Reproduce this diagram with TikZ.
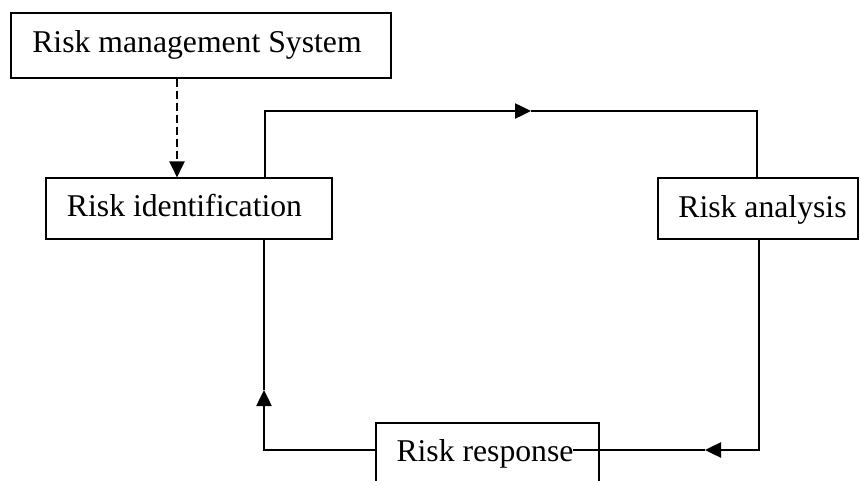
\documentclass[tikz,border=0pt]{standalone}
\usepackage{fontspec}
\setmainfont{Liberation Serif}
\usetikzlibrary{arrows.meta}
\begin{document}
\begin{tikzpicture}[x=1pt,y=-1pt,
 box/.style={draw=black,line width=1.1pt,inner sep=0pt},
 lbl/.style={anchor=base,inner sep=0pt,font=\fontsize{31.7}{38}\selectfont},
 thinline/.style={line width=1.1pt},
 boldline/.style={line width=2.5pt},
 tipend/.style={-{Triangle[length=16pt,width=15pt]}},
 dashline/.style={line width=2.2pt,dash pattern=on 8pt off 4pt},
]
\useasboundingbox (0,0) rectangle (860,481);
\clip (0,0) rectangle (860,481);
% boxes
\node[box,minimum width=380pt,minimum height=65pt] (rms) at (201,45.5) {};
\node[box,minimum width=286pt,minimum height=61pt] (rid) at (189,208.5) {};
\node[box,minimum width=200pt,minimum height=61pt] (ran) at (758,208.5) {};
\node[box,minimum width=223pt,minimum height=62pt] (rrs) at (487.5,454) {};
% helper coordinates
\coordinate (xd) at (177,0);
\coordinate (xl) at (265,0);
\coordinate (xr) at (757,0);
\coordinate (xb) at (759,0);
\coordinate (xbl) at (264,0);
\coordinate (ytop) at (0,111);
\coordinate (ybot) at (0,450);
\coordinate (a1) at (531,111);
\coordinate (a2) at (705,450);
\coordinate (a3) at (264,390);
\coordinate (e2) at (573,450);
% dashed arrow
\draw[dashline,tipend] (rms.south -| xd) -- (rid.north -| xd);
% top connector
\draw[boldline,tipend] (rid.north -| xl) -- (xl |- ytop) -- (a1);
\draw[thinline] (a1) -- (xr |- ytop) -- (ran.north -| xr);
% right connector
\draw[boldline,tipend] (ran.south -| xb) -- (xb |- ybot) -- (a2);
\draw[thinline] (a2) -- (e2);
% left connector
\draw[boldline,tipend] (rrs.west |- ybot) -- (xbl |- ybot) -- (a3);
\draw[thinline] (a3) -- (rid.south -| xbl);
% labels
\node[lbl] (trms) at (197,53) {Risk management System};
\node[lbl] (trid) at (184.5,216.7) {Risk identification};
\node[lbl] (tran) at (762.5,217.3) {Risk analysis};
\node[lbl] (trrs) at (485,461.7) {Risk response};
\end{tikzpicture}
\end{document}
